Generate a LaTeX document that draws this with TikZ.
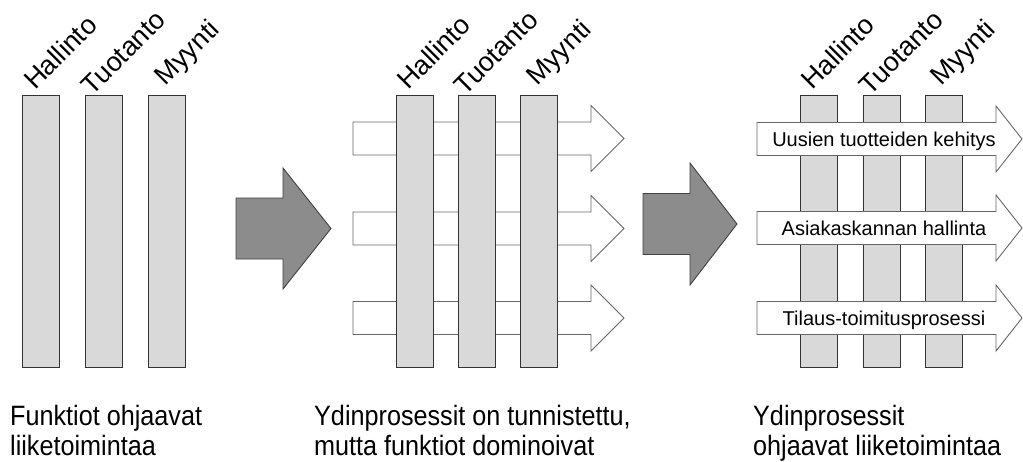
\documentclass[tikz,border=0pt]{standalone}
\usepackage{fontspec}
\setmainfont{Liberation Sans}
% block arrow: left x, centre y, head start x, tip x, half shaft, half head, style
\newcommand\blockarrow[7]{%
  \draw[#7] ({#1},{#2-#5}) -- ({#3},{#2-#5}) -- ({#3},{#2-#6}) -- ({#4},{#2})
    -- ({#3},{#2+#6}) -- ({#3},{#2+#5}) -- ({#1},{#2+#5}) -- cycle;}
\begin{document}
\begin{tikzpicture}[x=1pt,y=-1pt,
  bar/.style={draw=black!80, line width=0.9pt, fill=black!15, inner sep=0pt,
    minimum width=37pt, minimum height=272pt, anchor=north west},
  flow/.style={draw=black!60, line width=0.9pt, fill=white},
  bigarrow/.style={draw=black!75, line width=0.9pt, fill=black!45},
  dept/.style={rotate=45, anchor=base, inner sep=0pt, font=\fontsize{27}{27}\selectfont},
  caption/.style={anchor=base west, inner sep=0pt, align=left,
    font=\fontsize{28}{30}\selectfont, xscale=0.9},
  flowlabel/.style={anchor=base, inner sep=0pt, font=\fontsize{20}{20}\selectfont}]
\useasboundingbox (0,0) rectangle (1023,461);

% ---- stage 1: functions only
\node[bar] (b11) at (22,95) {};
\node[bar] (b12) at (85,95) {};
\node[bar] (b13) at (148,95) {};
\node[dept] (h1) at (67,59) {Hallinto};
\node[dept] (t1) at (130,59) {Tuotanto};
\node[dept] (m1) at (193,59) {Myynti};
\node[caption] (c1) at (10,455) {Funktiot ohjaavat\\liiketoimintaa};

% transition arrow 1
\blockarrow{236}{228.5}{283}{331}{30.5}{60.5}{bigarrow}

% ---- stage 2: processes behind functions
\blockarrow{353}{138.5}{591}{624}{16.5}{33}{flow}
\blockarrow{353}{228.5}{591}{624}{16.5}{33}{flow}
\blockarrow{353}{318}{591}{624}{16.5}{33}{flow}
\node[bar] (b21) at (396,95) {};
\node[bar] (b22) at (458,95) {};
\node[bar] (b23) at (520,95) {};
\node[dept] (h2) at (440.5,59) {Hallinto};
\node[dept] (t2) at (502.5,59) {Tuotanto};
\node[dept] (m2) at (565,59) {Myynti};
\node[caption] (c2) at (314,455) {Ydinprosessit on tunnistettu,\\mutta funktiot dominoivat};

% transition arrow 2
\blockarrow{643}{224}{690}{737}{30.5}{61}{bigarrow}

% ---- stage 3: processes over functions
\node[bar] (b31) at (800,95) {};
\node[bar] (b32) at (863,95) {};
\node[bar] (b33) at (925,95) {};
\node[dept] (h3) at (844.5,59) {Hallinto};
\node[dept] (t3) at (907.5,59) {Tuotanto};
\node[dept] (m3) at (969.5,59) {Myynti};
\blockarrow{757}{139}{996}{1022}{16.5}{33}{flow}
\blockarrow{757}{228}{996}{1022}{16.5}{33}{flow}
\blockarrow{757}{318}{996}{1022}{16.5}{33}{flow}
\node[flowlabel] (p1) at (884,146.5) {Uusien tuotteiden kehitys};
\node[flowlabel] (p2) at (884,235.5) {Asiakaskannan hallinta};
\node[flowlabel] (p3) at (884,325.5) {Tilaus-toimitusprosessi};
\node[caption] (c3) at (753,455) {Ydinprosessit\\ohjaavat liiketoimintaa};
\end{tikzpicture}
\end{document}
